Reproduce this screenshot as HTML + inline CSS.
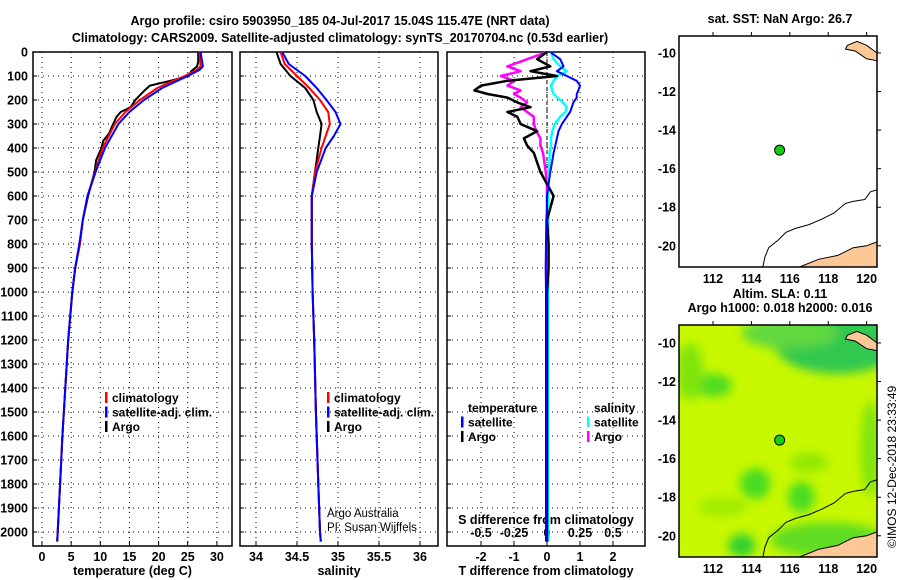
<!DOCTYPE html>
<html><head><meta charset="utf-8">
<style>
body{margin:0;background:#fff;}
svg{display:block;font-family:"Liberation Sans",Arial,sans-serif;font-weight:bold;}
.t{font-size:12.5px;fill:#000;}
.lg{font-size:12px;fill:#000;}
</style></head>
<body>
<svg id="chart" width="900" height="580" viewBox="0 0 900 580" xmlns="http://www.w3.org/2000/svg">
<defs><filter id="blur" x="-50%" y="-50%" width="200%" height="200%"><feGaussianBlur stdDeviation="5"/></filter>
<clipPath id="mapclip"><rect x="679" y="325" width="198" height="232"/></clipPath></defs>
<text class="t" x="340" y="25" text-anchor="middle" font-size="13.5">Argo profile: csiro 5903950_185 04-Jul-2017 15.04S 115.47E (NRT data)</text>
<text class="t" x="340" y="42" text-anchor="middle" font-size="13.5">Climatology: CARS2009. Satellite-adjusted climatology: synTS_20170704.nc (0.53d earlier)</text>
<g id="g"></g>
</svg>
<script>
// ---- data ----
const depthT = [0,60,75,100,125,150,200,250,300,400,500,600,700,800,900,1000,1200,1400,1600,1800,2000,2040];
const tempClim = [27,27.2,26.5,24.5,22,19.8,16.8,14.3,12.5,10.4,9.1,7.8,7,6.5,5.7,5.2,4.5,4,3.5,3.1,2.7,2.6];
const tempSat  = [27.2,27.6,27,25,22.8,20.6,17.5,15,13.1,10.8,9.2,7.8,7,6.4,5.7,5.2,4.5,4,3.5,3.1,2.7,2.6];
const depthArgo = [0,40,60,80,100,120,140,160,180,200,230,250,270,300,340,370,400,450,500,600,700,800,900,1000,1200,1400,1600,1800,2000,2040];
const tempArgo = [26.8,26.8,26.6,25.6,25.2,22,18.5,17.6,16.8,16,15.2,13.5,12.8,12.2,11.5,10.5,10.2,9.3,9.0,7.9,7.0,6.5,5.7,5.2,4.5,4,3.5,3.1,2.7,2.6];
const depthS = [0,50,100,150,200,250,300,350,400,500,600,800,1000,1200,1500,1800,2000,2040];
const salClim = [34.3,34.35,34.5,34.65,34.78,34.88,34.9,34.85,34.8,34.72,34.68,34.68,34.69,34.71,34.73,34.76,34.78,34.79];
const salSat  = [34.32,34.4,34.6,34.74,34.86,34.97,35.03,34.95,34.85,34.74,34.68,34.68,34.69,34.71,34.73,34.76,34.78,34.79];
const salArgo = [34.25,34.3,34.42,34.6,34.7,34.74,34.8,34.78,34.76,34.72,34.68,34.68,34.69,34.71,34.73,34.76,34.78,34.79];
const depthD = [0,30,60,80,100,120,140,160,175,190,210,230,250,270,300,330,360,390,420,460,500,550,600,650,700,800,900,1000,1500,2040];
const dTArgo = [0,-0.3,0.1,-0.5,0.3,-1.2,-2.0,-2.2,-1.8,-1.2,-0.9,-0.5,-1.2,-0.9,-0.8,-0.3,-0.7,-0.6,-0.4,-0.3,-0.2,0,0.2,0.1,0,0.05,0.05,0,0,0];
const dTSat  = [0.1,0.4,0.5,0.3,0.6,0.9,1.0,0.95,0.9,0.9,0.8,0.75,0.7,0.6,0.45,0.35,0.3,0.25,0.2,0.15,0.1,0.05,0,0,-0.02,-0.03,-0.04,-0.03,-0.03,-0.03];
const dSArgo = [0,-0.15,-0.3,-0.2,-0.35,-0.25,-0.3,-0.2,-0.25,-0.2,-0.15,-0.2,-0.15,-0.1,-0.1,-0.08,-0.05,-0.05,-0.03,-0.02,-0.01,0,0,0,0,0,0,0,0,0];
const dSSat  = [0.03,0.05,0.1,0.15,0.08,0.05,0.03,0.04,0.05,0.08,0.12,0.15,0.14,0.1,0.06,0.04,0.03,0.03,0.02,0.02,0.01,0.01,0.01,0.01,0.01,0.01,0.01,0.01,0.01,0.01];
const depthTicks = [0,100,200,300,400,500,600,700,800,900,1000,1100,1200,1300,1400,1500,1600,1700,1800,1900,2000];
const tempTicks = [0,5,10,15,20,25,30];
const salTicks = [34,34.5,35,35.5,36];
const dTTicks = [-2,-1,0,1,2];
const dSTicks = [-0.5,-0.25,0,0.25,0.5];
const latTicks = [-10,-12,-14,-16,-18,-20];
const lonTicks = [112,114,116,118,120];
const argoLon = 115.47, argoLat = -15.04;
const coastN = [[120.54,-17.1],[120.2,-17.2],[119.9,-17.6],[119.3,-17.7],[118.9,-17.8],[118.3,-18.3],[117.7,-18.6],[117,-18.9],[116.3,-19.1],[115.8,-19.3],[115.4,-19.7],[114.9,-20.1],[114.7,-20.6],[114.6,-21.1]];
const landS = [[116.5,-21.1],[117.5,-20.7],[118.5,-20.5],[119.3,-20.1],[120,-20],[120.54,-19.8],[120.54,-21.1]];
const landNE = [[119,-9.6],[119.5,-9.4],[120,-9.6],[120.54,-10],[120.54,-10.4],[120,-10.3],[119.4,-9.9],[118.9,-9.8]];
// ---- helpers ----
const NS="http://www.w3.org/2000/svg", G=document.getElementById('g');
function mk(tag,at,parent){const e=document.createElementNS(NS,tag);for(const k in at)e.setAttribute(k,at[k]);(parent||G).appendChild(e);return e;}
const yD = d => 52 + d*0.24;
function panel(name,x0,x1,xs,ticks,fmt,lbl){
  const p=mk('g',{});
  
  
  mk('rect',{x:x0,y:52,width:x1-x0,height:494,fill:'#fff',stroke:'#000','stroke-width':1.5},p);
  depthTicks.forEach(d=>{mk('line',{x1:x0,x2:x1,y1:yD(d),y2:yD(d),stroke:'#000','stroke-dasharray':'1,4'},p);
    mk('line',{x1:x0,x2:x0+4,y1:yD(d),y2:yD(d),stroke:'#000'},p);});
  ticks.forEach(t=>{const x=xs(t);mk('line',{x1:x,x2:x,y1:52,y2:546,stroke:'#000','stroke-dasharray':'1,4'},p);
    mk('line',{x1:x,x2:x,y1:546,y2:541,stroke:'#000'},p);
    if(fmt){const tx=mk('text',{x:x,y:561,'text-anchor':'middle',class:'t'},p);tx.textContent=fmt(t);}});
  if(lbl){const tx=mk('text',{x:(x0+x1)/2,y:575,'text-anchor':'middle',class:'t'},p);tx.textContent=lbl;}
  return p;
}
function line(xs,vals,depths,color,w,name,parent){
  const pts=vals.map((v,i)=>xs(v).toFixed(1)+','+yD(depths[i]).toFixed(1)).join(' ');
  const e=mk('polyline',{points:pts,fill:'none',stroke:color,'stroke-width':w,'stroke-linejoin':'round'},parent);
  
  
}
function legend(x,y,entries,parent){
  entries.forEach((en,i)=>{const yy=y+i*14.5;
    if(en[1])mk('rect',{x:x,y:yy-10,width:2.5,height:11,fill:en[1]},parent);
    const t=mk('text',{x:x+7,y:yy,class:'lg'},parent);t.textContent=en[0];
    
    });
}
depthTicks.forEach(d=>{const t=mk('text',{x:28,y:yD(d)+4.5,'text-anchor':'end',class:'t'});t.textContent=d;});
const xT=v=>42+v*5.83;
const p1=panel('temperature-panel',33,232,xT,tempTicks,v=>v,'temperature (deg C)');
line(xT,tempArgo,depthArgo,'#000',2,'argo-temp-line',p1);
line(xT,tempClim,depthT,'#f00',2,'clim-temp-line',p1);
line(xT,tempSat,depthT,'#00f',2,'sat-temp-line',p1);
legend(105,402,[['climatology','#f00'],['satellite-adj. clim.','#00f'],['Argo','#000']],p1);
const xS=v=>256+(v-34)*82;
const p2=panel('salinity-panel',240,438,xS,salTicks,v=>v,'salinity');
line(xS,salArgo,depthS,'#000',2,'argo-sal-line',p2);
line(xS,salClim,depthS,'#f00',2,'clim-sal-line',p2);
line(xS,salSat,depthS,'#00f',2,'sat-sal-line',p2);
legend(327,402,[['climatology','#f00'],['satellite-adj. clim.','#00f'],['Argo','#000']],p2);
let at=mk('text',{x:327,y:517,'font-size':11.5,'font-weight':'normal',fill:'#000'},p2);at.textContent='Argo Australia';
at=mk('text',{x:327,y:531,'font-size':11.5,'font-weight':'normal',fill:'#000'},p2);at.textContent='PI: Susan Wijffels';
const xDT=v=>547+v*33, xDS=v=>547+v*132;
const p3=panel('difference-panel',447,645,xDT,dTTicks,v=>v,'T difference from climatology');
mk('line',{x1:547,x2:547,y1:52,y2:546,stroke:'#000','stroke-dasharray':'4,3'},p3);
dSTicks.forEach(s=>{const t=mk('text',{x:xDS(s),y:537,'text-anchor':'middle',class:'t'},p3);t.textContent=s;});
at=mk('text',{x:546,y:524,'text-anchor':'middle',class:'t'},p3);at.textContent='S difference from climatology';
line(xDS,dSArgo,depthD,'#f0f',2.5,'argo-sal-diff-line',p3);
line(xDS,dSSat,depthD,'#0ff',2.5,'sat-sal-diff-line',p3);
line(xDT,dTArgo,depthD,'#000',2.5,'argo-temp-diff-line',p3);
line(xDT,dTSat,depthD,'#00f',2,'sat-temp-diff-line',p3);
legend(461,412,[['temperature',null],['satellite','#00f'],['Argo','#000']],p3);
legend(587,412,[['salinity',null],['satellite','#0ff'],['Argo','#f0f']],p3);
function map(name,y0,y1,lat0,title,green){
  const m=mk('g',{});
  
  
  const x0=679,x1=877,lonL=110.23,lonR=120.54,latB=-21.1;
  const px=lo=>x0+(lo-lonL)/(lonR-lonL)*(x1-x0), py=la=>y0+(lat0-la)/(lat0-latB)*(y1-y0);
  mk('rect',{x:x0,y:y0,width:x1-x0,height:y1-y0,fill:green?'#c8f800':'#fff'},m);
  if(green){const gg=mk('g',{'clip-path':'url(#mapclip)',filter:'url(#blur)'},m);
    [[118.5,-10,3.3,1.6,'#30c850'],[116,-9.5,2.5,0.8,'#60d840'],[112,-12.2,1,0.6,'#50dc20'],[110.8,-11.5,0.7,1.5,'#80e410'],[114.2,-17.3,0.8,0.8,'#48dc20'],[116.6,-18,0.7,0.8,'#48dc20'],[113.5,-20.5,0.7,0.6,'#30d030'],[117,-16.2,1,0.5,'#90e800'],[118,-20.2,3,0.9,'#60dc20'],[120.2,-15.5,0.5,2.5,'#80e410'],[112.5,-18.5,1.3,0.5,'#a0ec00']].forEach(b=>
      mk('ellipse',{cx:px(b[0]),cy:py(b[1]),rx:b[2]*19.3,ry:b[3]*19.3,fill:b[4]},gg));}
  const poly=a=>a.map(p=>px(p[0]).toFixed(1)+','+py(p[1]).toFixed(1)).join(' ');
  mk('polygon',{points:poly(landS),fill:'#fdc896',stroke:'#000'},m);
  mk('polygon',{points:poly(landNE),fill:'#fdc896',stroke:'#000'},m);
  mk('polyline',{points:poly(coastN),fill:'none',stroke:'#000'},m);
  mk('rect',{x:x0,y:y0,width:x1-x0,height:y1-y0,fill:'none',stroke:'#000','stroke-width':1.5},m);
  latTicks.forEach(l=>{mk('line',{x1:x1,x2:x1+4,y1:py(l),y2:py(l),stroke:'#000'},m);
    const t=mk('text',{x:x0-3,y:py(l)+4.5,'text-anchor':'end',class:'t'},m);t.textContent=l;});
  lonTicks.forEach(l=>{mk('line',{x1:px(l),x2:px(l),y1:y0,y2:y0-4,stroke:'#000'},m);
    const t=mk('text',{x:px(l),y:y1+16,'text-anchor':'middle',class:'t'},m);t.textContent=l;});
  const c=mk('circle',{cx:px(argoLon),cy:py(argoLat),r:5,fill:'#10d010',stroke:'#000'},m);
  
  
  title.forEach((s,i)=>{const t=mk('text',{x:780,y:y0-(title.length-i)*14+1,'text-anchor':'middle',class:'t'},m);t.textContent=s;});
}
map('sst-map',36,267,-9.12,['sat. SST: NaN Argo: 26.7'],false);
map('sla-map',325,557,-9.07,['Altim. SLA: 0.11','Argo h1000: 0.018 h2000: 0.016'],true);
const cr=mk('text',{transform:'translate(896,548) rotate(-90)','font-size':12,'font-weight':'normal',fill:'#000'});
cr.textContent='©IMOS 12-Dec-2018 23:33:49';


</script>
</body></html>
